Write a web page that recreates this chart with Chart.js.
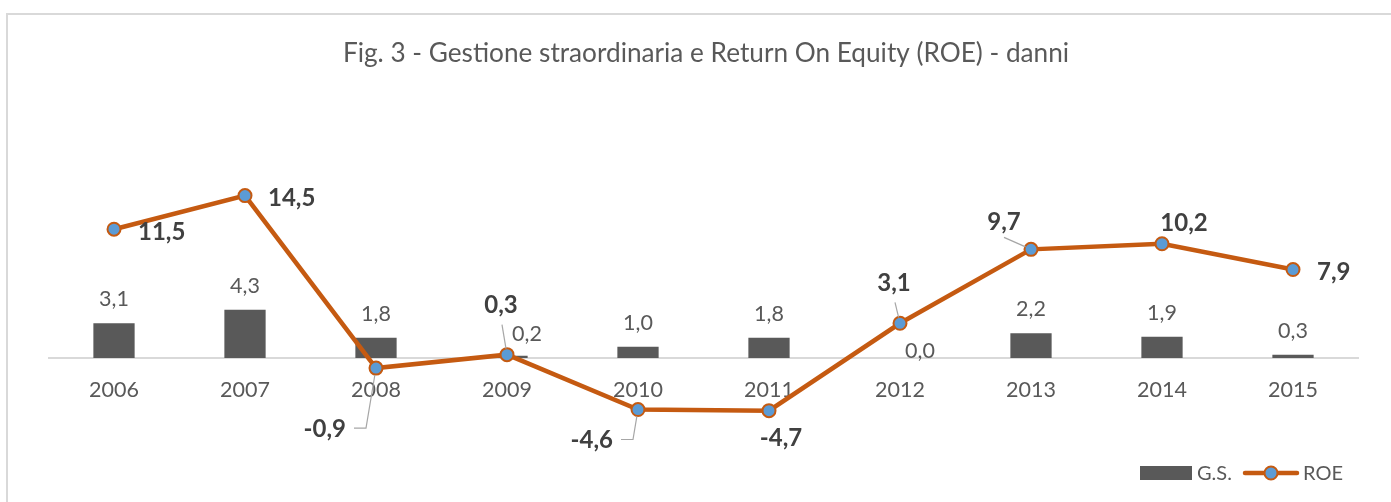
<!DOCTYPE html>
<html lang="it">
<head>
<meta charset="utf-8">
<title>Fig. 3 - Gestione straordinaria e ROE - danni</title>
<script src="https://cdn.jsdelivr.net/npm/chart.js@4.4.1/dist/chart.umd.min.js"></script>
<style>
  html, body { margin: 0; padding: 0; background: #fff; }
  #wrap { width: 1391px; height: 502px; position: relative; }
</style>
</head>
<body>
<div id="wrap"><canvas id="chart"></canvas></div>
<script>
const years = ['2006', '2007', '2008', '2009', '2010', '2011', '2012', '2013', '2014', '2015'];
const gsValues = [3.1, 4.3, 1.8, 0.2, 1.0, 1.8, 0.0, 2.2, 1.9, 0.3];
const roeValues = [11.5, 14.5, -0.9, 0.3, -4.6, -4.7, 3.1, 9.7, 10.2, 7.9];
const chartTitle = 'Fig. 3 - Gestione straordinaria e Return On Equity (ROE) - danni';

const GREY = '#595959';
const ORANGE = '#C55A11';
const BLUE = '#5B9BD5';
const FONT = 'Lato, "Open Sans", sans-serif';

// where Excel put the labels (px from the bar top / marker)
const gsLabelPos = [
  { dx: 0, dy: -25 }, { dx: 0, dy: -25 }, { dx: 0, dy: -25 }, { dx: 20, dy: -23 },
  { dx: 0, dy: -25 }, { dx: 0, dy: -25 }, { dx: 20, dy: -8 }, { dx: 0, dy: -25 },
  { dx: 0, dy: -25 }, { dx: 0, dy: -25 }
];
const roeLabelPos = [
  { dx: 24, dy: 2, align: 'left', leader: null },
  { dx: 23, dy: 2, align: 'left', leader: null },
  { dx: -30, dy: 60, align: 'right', leader: 'elbow' },
  { dx: -6, dy: -50, align: 'center', leader: 'up' },
  { dx: -25, dy: 30, align: 'right', leader: 'elbow' },
  { dx: 12, dy: 27, align: 'center', leader: null },
  { dx: -6, dy: -41, align: 'center', leader: 'up' },
  { dx: -27, dy: -28, align: 'center', leader: 'diag' },
  { dx: 22, dy: -21, align: 'center', leader: null },
  { dx: 24, dy: 2, align: 'left', leader: null }
];

const fmt = v => v.toFixed(1).replace('.', ',');

// white page + light grey frame that runs off the right/bottom edge
const framePlugin = {
  id: 'frame',
  beforeDraw(chart) {
    const ctx = chart.ctx;
    ctx.save();
    ctx.fillStyle = '#fff';
    ctx.fillRect(0, 0, chart.width, chart.height);
    ctx.strokeStyle = '#d9d9d9';
    ctx.lineWidth = 2;
    ctx.strokeRect(7, 14, chart.width + 20, chart.height + 20);
    ctx.fillStyle = GREY;
    ctx.font = '26.2px ' + FONT;
    ctx.textAlign = 'center';
    ctx.textBaseline = 'alphabetic';
    ctx.fillText(chartTitle, 706, 62);
    ctx.restore();
  }
};

function lineTo(ctx, from, to, cut) {
  const ddx = to.x - from.x, ddy = to.y - from.y;
  const len = Math.hypot(ddx, ddy);
  ctx.lineTo(to.x - ddx / len * cut, to.y - ddy / len * cut);
}

const labelsPlugin = {
  id: 'valueLabels',
  afterDatasetsDraw(chart) {
    const ctx = chart.ctx;
    const bars = chart.getDatasetMeta(0).data;
    const pts = chart.getDatasetMeta(1).data;
    ctx.save();
    ctx.textBaseline = 'alphabetic';

    ctx.font = '21.5px ' + FONT;
    ctx.fillStyle = GREY;
    ctx.textAlign = 'center';
    bars.forEach((bar, i) => {
      const o = gsLabelPos[i];
      ctx.fillText(fmt(gsValues[i]), bar.x + o.dx, bar.y + o.dy + 8);
    });

    ctx.font = 'bold 24px ' + FONT;
    pts.forEach((pt, i) => {
      const o = roeLabelPos[i];
      const txt = fmt(roeValues[i]);
      const w = ctx.measureText(txt).width;
      const ax = pt.x + o.dx, cy = pt.y + o.dy;
      let cx = ax;
      if (o.align === 'left') cx = ax + w / 2;
      if (o.align === 'right') cx = ax - w / 2;

      if (o.leader) {
        ctx.strokeStyle = '#a6a6a6';
        ctx.lineWidth = 1.2;
        ctx.beginPath();
        if (o.leader === 'elbow') {
          const x0 = cx + w / 2 + 8;
          const corner = { x: x0 + 12, y: cy };
          ctx.moveTo(x0, cy);
          ctx.lineTo(corner.x, corner.y);
          lineTo(ctx, corner, pt, 7);
        } else {
          const start = { x: cx + (o.leader === 'up' ? 1 : 0), y: cy + (o.leader === 'up' ? 20 : 16) };
          ctx.moveTo(start.x, start.y);
          lineTo(ctx, start, pt, 6);
        }
        ctx.stroke();
      }

      ctx.fillStyle = '#404040';
      ctx.textAlign = 'center';
      ctx.fillText(txt, cx, cy + 8.5);
    });
    ctx.restore();
  }
};

const legendPlugin = {
  id: 'sideLegend',
  afterDraw(chart) {
    const ctx = chart.ctx;
    const ds = chart.data.datasets;
    const y = 473;
    ctx.save();
    ctx.font = '20px ' + FONT;
    ctx.textAlign = 'left';
    ctx.textBaseline = 'alphabetic';

    ctx.fillStyle = ds[0].backgroundColor;
    ctx.fillRect(1140, y - 7, 52, 14);
    ctx.fillStyle = GREY;
    ctx.fillText(ds[0].label, 1197, y + 7);

    ctx.strokeStyle = ds[1].borderColor;
    ctx.lineWidth = 4.5;
    ctx.lineCap = 'round';
    ctx.beginPath();
    ctx.moveTo(1245, y);
    ctx.lineTo(1297, y);
    ctx.stroke();
    ctx.beginPath();
    ctx.arc(1271, y, 6.5, 0, Math.PI * 2);
    ctx.fillStyle = ds[1].pointBackgroundColor;
    ctx.fill();
    ctx.lineWidth = 2;
    ctx.stroke();
    ctx.fillStyle = GREY;
    ctx.fillText(ds[1].label, 1303, y + 7);
    ctx.restore();
  }
};

new Chart(document.getElementById('chart'), {
  type: 'bar',
  data: {
    labels: years,
    datasets: [
      {
        type: 'bar',
        label: 'G.S.',
        data: gsValues,
        backgroundColor: GREY,
        categoryPercentage: 1,
        barPercentage: 0.315,
        order: 2
      },
      {
        type: 'line',
        label: 'ROE',
        data: roeValues,
        borderColor: ORANGE,
        borderWidth: 4.5,
        tension: 0,
        pointRadius: 6.5,
        pointBackgroundColor: BLUE,
        pointBorderColor: ORANGE,
        pointBorderWidth: 2,
        order: 1
      }
    ]
  },
  options: {
    responsive: true,
    maintainAspectRatio: false,
    animation: false,
    events: [],
    layout: { padding: { left: 48.5, right: 32.5, top: 134, bottom: 32 } },
    plugins: {
      legend: { display: false },
      title: { display: false },
      tooltip: { enabled: false }
    },
    scales: {
      x: {
        position: { y: 0 },
        grid: { display: false, drawTicks: false },
        border: { display: true, color: '#d9d9d9', width: 2 },
        ticks: { color: GREY, font: { family: FONT, size: 21.5 }, padding: 19 }
      },
      y: {
        display: false,
        min: -10,
        max: 20
      }
    }
  },
  plugins: [framePlugin, labelsPlugin, legendPlugin]
});
</script>
</body>
</html>
